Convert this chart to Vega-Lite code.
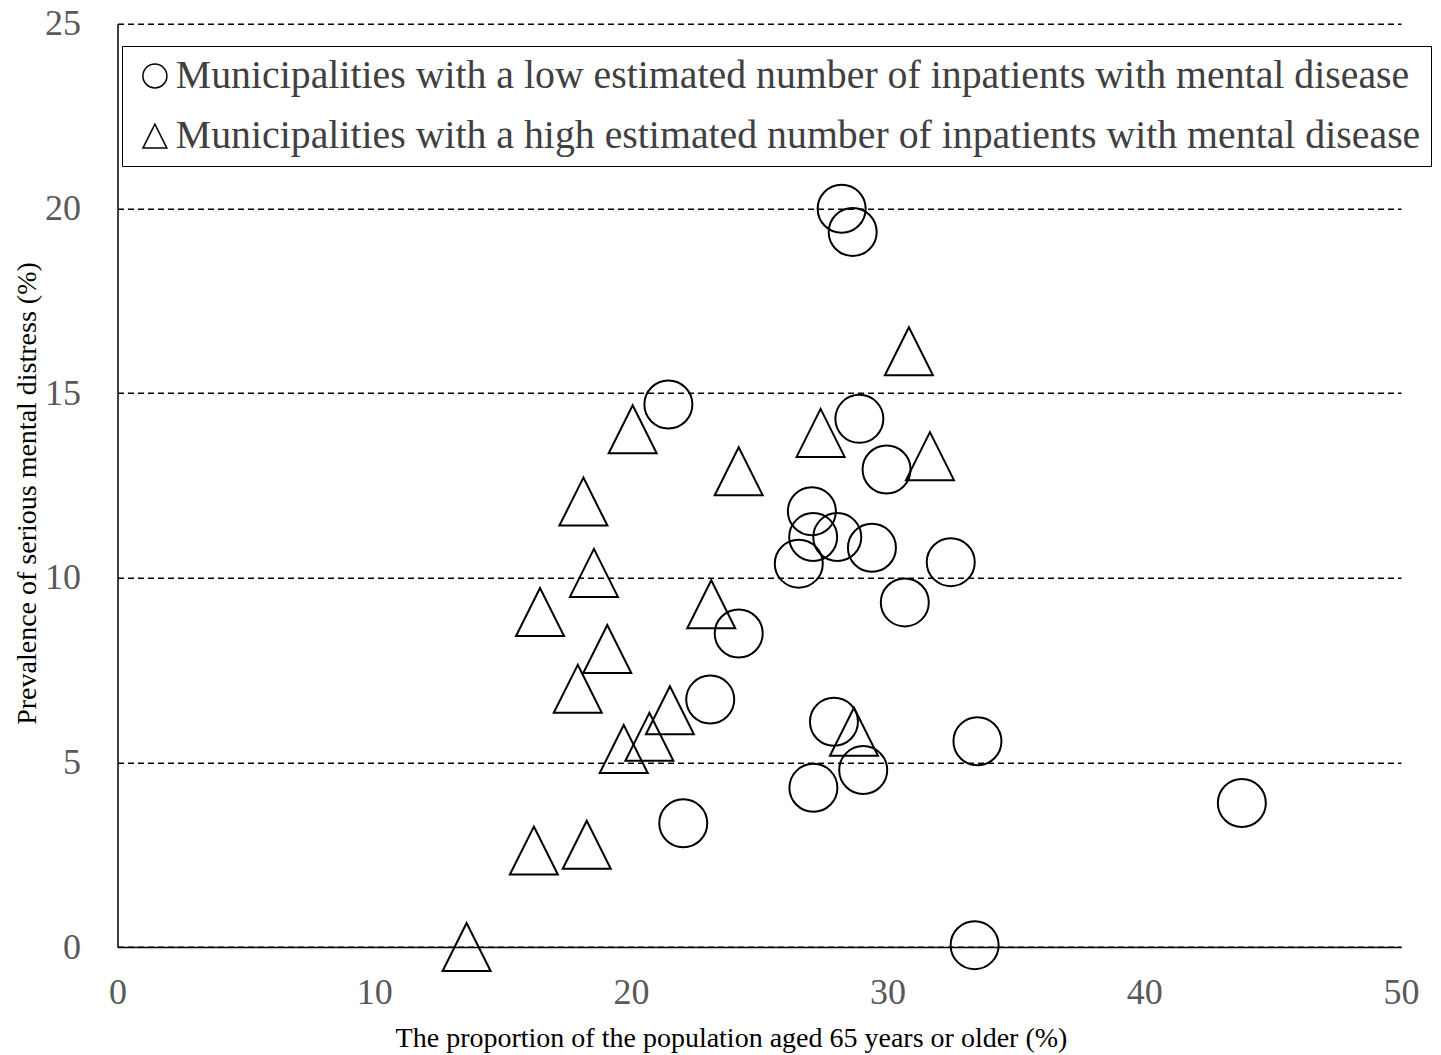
{
  "$schema": "https://vega.github.io/schema/vega-lite/v6.json",
  "width": 1283.5,
  "height": 923.3,
  "autosize": {"type": "none"},
  "padding": {"left": 117.5, "top": 23.7, "right": 40, "bottom": 108},
  "background": "white",
  "config": {"view": {"stroke": null}},
  "data": {
    "values": [
      {"group": "low", "aged65": 28.21, "smd": 19.99},
      {"group": "low", "aged65": 28.64, "smd": 19.36},
      {"group": "low", "aged65": 21.46, "smd": 14.69},
      {"group": "low", "aged65": 28.9, "smd": 14.3},
      {"group": "low", "aged65": 29.96, "smd": 12.93},
      {"group": "low", "aged65": 27.05, "smd": 11.8},
      {"group": "low", "aged65": 27.1, "smd": 11.1},
      {"group": "low", "aged65": 28.04, "smd": 11.1},
      {"group": "low", "aged65": 29.39, "smd": 10.81},
      {"group": "low", "aged65": 26.54, "smd": 10.38},
      {"group": "low", "aged65": 32.46, "smd": 10.42},
      {"group": "low", "aged65": 30.67, "smd": 9.33},
      {"group": "low", "aged65": 24.2, "smd": 8.49},
      {"group": "low", "aged65": 23.09, "smd": 6.7},
      {"group": "low", "aged65": 27.91, "smd": 6.1},
      {"group": "low", "aged65": 33.5, "smd": 5.57},
      {"group": "low", "aged65": 29.05, "smd": 4.79},
      {"group": "low", "aged65": 27.11, "smd": 4.31},
      {"group": "low", "aged65": 22.04, "smd": 3.35},
      {"group": "low", "aged65": 43.8, "smd": 3.9},
      {"group": "low", "aged65": 33.39, "smd": 0.05},
      {"group": "high", "aged65": 30.83, "smd": 16.13},
      {"group": "high", "aged65": 27.39, "smd": 13.92},
      {"group": "high", "aged65": 31.65, "smd": 13.29},
      {"group": "high", "aged65": 20.07, "smd": 14.02},
      {"group": "high", "aged65": 24.2, "smd": 12.88},
      {"group": "high", "aged65": 18.15, "smd": 12.06},
      {"group": "high", "aged65": 18.56, "smd": 10.13},
      {"group": "high", "aged65": 16.46, "smd": 9.07},
      {"group": "high", "aged65": 23.13, "smd": 9.28},
      {"group": "high", "aged65": 19.08, "smd": 8.07},
      {"group": "high", "aged65": 17.93, "smd": 6.99},
      {"group": "high", "aged65": 21.52, "smd": 6.41},
      {"group": "high", "aged65": 20.72, "smd": 5.69},
      {"group": "high", "aged65": 19.72, "smd": 5.36},
      {"group": "high", "aged65": 28.69, "smd": 5.83},
      {"group": "high", "aged65": 16.22, "smd": 2.61},
      {"group": "high", "aged65": 18.28, "smd": 2.77},
      {"group": "high", "aged65": 13.6, "smd": 0}
    ]
  },
  "mark": {"type": "point", "filled": false, "stroke": "black", "strokeWidth": 2, "size": 2304, "clip": false, "opacity": 1},
  "encoding": {
    "x": {
      "field": "aged65", "type": "quantitative",
      "scale": {"domain": [0, 50], "nice": false, "zero": false},
      "axis": {
        "title": "The proportion of the population aged 65 years or older (%)",
        "values": [0, 10, 20, 30, 40, 50],
        "grid": false, "ticks": false, "tickSize": 0,
        "domainColor": "black", "domainWidth": 1.5,
        "labelFont": "Liberation Serif", "labelFontSize": 36, "labelColor": "#595959", "labelPadding": 28,
        "labelFlush": false,
        "titleFont": "Liberation Serif", "titleFontSize": 28, "titleFontWeight": "normal", "titleColor": "black",
        "titlePadding": 14, "titleX": 613.5, "titleAnchor": "middle"
      }
    },
    "y": {
      "field": "smd", "type": "quantitative",
      "scale": {"domain": [0, 25], "nice": false, "zero": false},
      "axis": {
        "title": "Prevalence of serious mental distress (%)",
        "values": [0, 5, 10, 15, 20, 25],
        "grid": true, "gridColor": "black", "gridDash": [6, 4], "gridWidth": 1.5,
        "ticks": false, "tickSize": 0,
        "domainColor": "black", "domainWidth": 1.5,
        "labelFont": "Liberation Serif", "labelFontSize": 36, "labelColor": "#595959", "labelPadding": 37,
        "labelFlush": false,
        "titleFont": "Liberation Serif", "titleFontSize": 28, "titleFontWeight": "normal", "titleColor": "black",
        "titlePadding": 3, "titleY": 469.3
      }
    },
    "shape": {
      "field": "group", "type": "nominal",
      "scale": {"domain": ["low", "high"], "range": ["circle", "M0,-1L-1,1L1,1Z"]},
      "legend": {
        "title": null,
        "orient": "none", "legendX": 4.5, "legendY": 22.3,
        "direction": "vertical",
        "fillColor": "white", "strokeColor": "black",
        "padding": 10,
        "symbolOffset": 3,
        "labelFont": "Liberation Serif", "labelFontSize": 39.8, "labelColor": "#404040", "labelOffset": 1,
        "labelLimit": 2000,
        "symbolSize": 576, "symbolStrokeColor": "black", "symbolFillColor": "transparent", "symbolStrokeWidth": 1.5,
        "rowPadding": 19.2,
        "labelExpr": "datum.label == 'low' ? 'Municipalities with a low estimated number of inpatients with mental disease' : 'Municipalities with a high estimated number of inpatients with mental disease'"
      }
    }
  }
}
